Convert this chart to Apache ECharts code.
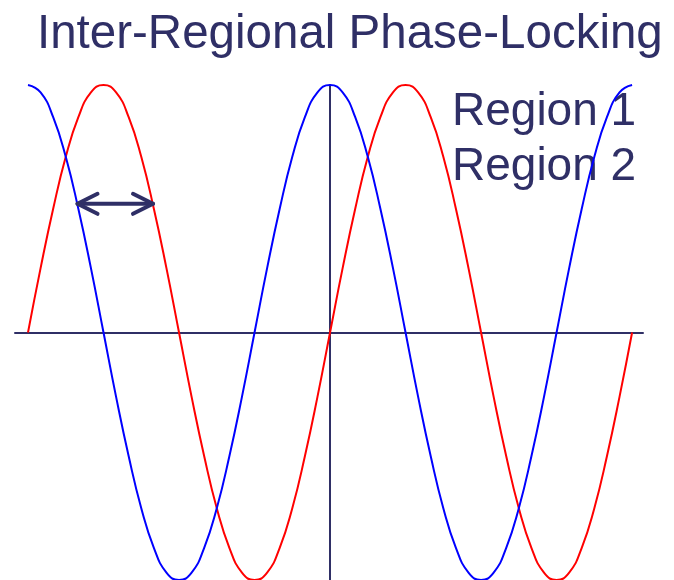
<!DOCTYPE html>
<html>
<head>
<meta charset="utf-8">
<script src="https://cdn.jsdelivr.net/npm/echarts@6/dist/echarts.min.js"></script>
<style>
  html, body { margin: 0; padding: 0; background: #fff; }
  #chart { width: 674px; height: 580px; }
</style>
</head>
<body>
<div id="chart"></div>
<script>
// phase in degrees, one point every 15 degrees
const phase = [
  -360, -345, -330, -315, -300, -285, -270, -255, -240, -225, -210, -195,
  -180, -165, -150, -135, -120, -105, -90, -75, -60, -45, -30, -15,
  0, 15, 30, 45, 60, 75, 90, 105, 120, 135, 150, 165,
  180, 195, 210, 225, 240, 255, 270, 285, 300, 315, 330, 345, 360
];
// Region 1 (red)
const region1 = [
  0, 0.26, 0.5, 0.71, 0.87, 0.97, 1, 0.97, 0.87, 0.71, 0.5, 0.26,
  0, -0.26, -0.5, -0.71, -0.87, -0.97, -1, -0.97, -0.87, -0.71, -0.5, -0.26,
  0, 0.26, 0.5, 0.71, 0.87, 0.97, 1, 0.97, 0.87, 0.71, 0.5, 0.26,
  0, -0.26, -0.5, -0.71, -0.87, -0.97, -1, -0.97, -0.87, -0.71, -0.5, -0.26, 0
];
// Region 2 (blue)
const region2 = [
  1, 0.97, 0.87, 0.71, 0.5, 0.26, 0, -0.26, -0.5, -0.71, -0.87, -0.97,
  -1, -0.97, -0.87, -0.71, -0.5, -0.26, 0, 0.26, 0.5, 0.71, 0.87, 0.97,
  1, 0.97, 0.87, 0.71, 0.5, 0.26, 0, -0.26, -0.5, -0.71, -0.87, -0.97,
  -1, -0.97, -0.87, -0.71, -0.5, -0.26, 0, 0.26, 0.5, 0.71, 0.87, 0.97, 1
];
const seriesNames = ["Region 1", "Region 2"];
// double arrow showing the phase lag: [from, to, level]
const lagArrow = [[-301, -211, 0.52]];

const navy = "#2f2f66";
const font = "'Liberation Sans', Arial, sans-serif";

const chart = echarts.init(document.getElementById("chart"), null, { renderer: "canvas" });

chart.setOption({
  animation: false,
  title: {
    text: "Inter-Regional Phase-Locking",
    left: 32,
    top: 6,
    textStyle: { color: navy, fontFamily: font, fontSize: 47.5, fontWeight: "normal" }
  },
  legend: {
    data: seriesNames,
    orient: "vertical",
    left: 441,
    top: 84,
    z: 1,
    itemWidth: 0,
    itemHeight: 0,
    itemGap: 9,
    selectedMode: false,
    textStyle: { color: navy, fontFamily: font, fontSize: 46 }
  },
  grid: { left: 15, right: 31, top: 85, bottom: 0 },
  xAxis: {
    type: "value",
    min: -375.5,
    max: 373,
    axisLine: { onZero: true, lineStyle: { color: navy, width: 2 } },
    axisTick: { show: false },
    axisLabel: { show: false },
    splitLine: { show: false }
  },
  yAxis: {
    type: "value",
    min: -1,
    max: 1,
    axisLine: { show: true, onZero: true, lineStyle: { color: navy, width: 2 } },
    axisTick: { show: false },
    axisLabel: { show: false },
    splitLine: { show: false }
  },
  series: [
    {
      name: seriesNames[0],
      type: "line",
      data: phase.map((p, i) => [p, region1[i]]),
      smooth: true,
      showSymbol: false,
      itemStyle: { color: "#ff0000" },
      lineStyle: { color: "#ff0000", width: 2 }
    },
    {
      name: seriesNames[1],
      type: "line",
      data: phase.map((p, i) => [p, region2[i]]),
      smooth: true,
      showSymbol: false,
      itemStyle: { color: "#0000ff" },
      lineStyle: { color: "#0000ff", width: 2 }
    },
    {
      type: "custom",
      z: 5,
      data: lagArrow,
      encode: { x: [0, 1], y: 2 },
      renderItem: function (params, api) {
        const a = api.coord([api.value(0), api.value(2)]);
        const b = api.coord([api.value(1), api.value(2)]);
        const hx = 20, hy = 10;
        const style = { stroke: navy, lineWidth: 4, fill: null, lineCap: "round", lineJoin: "round" };
        return {
          type: "group",
          children: [
            { type: "polyline", shape: { points: [a, b] }, style: style },
            { type: "polyline", shape: { points: [[a[0] + hx, a[1] - hy], a, [a[0] + hx, a[1] + hy]] }, style: style },
            { type: "polyline", shape: { points: [[b[0] - hx, b[1] - hy], b, [b[0] - hx, b[1] + hy]] }, style: style }
          ]
        };
      }
    }
  ]
});
</script>
</body>
</html>
